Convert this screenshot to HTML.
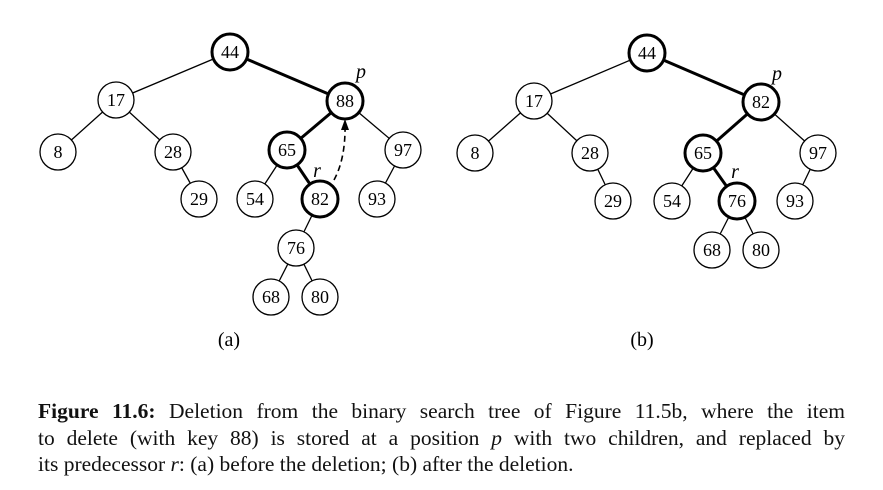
<!DOCTYPE html>
<html><head><style>
body{margin:0;background:#fff;width:883px;height:490px;overflow:hidden;font-family:"Liberation Serif",serif;}
.cap{position:absolute;left:38px;top:398px;width:807px;font-size:21.5px;line-height:26.5px;color:#111;}
.cap div{text-align:justify;text-align-last:justify;white-space:nowrap;}
.cap div.l{text-align-last:left;}
</style></head><body>
<svg width="883" height="380" style="position:absolute;left:0;top:0" font-family="Liberation Serif, serif" font-size="18">
<g stroke="#000" fill="none">
<line x1="230" y1="52" x2="116" y2="100" stroke-width="1.3"/>
<line x1="230" y1="52" x2="345" y2="101" stroke-width="3"/>
<line x1="116" y1="100" x2="58" y2="152" stroke-width="1.3"/>
<line x1="116" y1="100" x2="173" y2="152" stroke-width="1.3"/>
<line x1="173" y1="152" x2="199" y2="199" stroke-width="1.3"/>
<line x1="345" y1="101" x2="287" y2="150" stroke-width="3"/>
<line x1="345" y1="101" x2="403" y2="150" stroke-width="1.3"/>
<line x1="287" y1="150" x2="255" y2="199" stroke-width="1.3"/>
<line x1="287" y1="150" x2="320" y2="199" stroke-width="3"/>
<line x1="403" y1="150" x2="377" y2="199" stroke-width="1.3"/>
<line x1="320" y1="199" x2="296" y2="248" stroke-width="1.3"/>
<line x1="296" y1="248" x2="271" y2="297" stroke-width="1.3"/>
<line x1="296" y1="248" x2="320" y2="297" stroke-width="1.3"/>
<path d="M334,180 Q346,158 345,122" stroke-width="1.6" stroke-dasharray="6,4"/>
<path d="M341,130 L345,119 L349,130 Z" fill="#000" stroke="none"/>
<line x1="647" y1="53" x2="534" y2="101" stroke-width="1.3"/>
<line x1="647" y1="53" x2="761" y2="102" stroke-width="3"/>
<line x1="534" y1="101" x2="475" y2="153" stroke-width="1.3"/>
<line x1="534" y1="101" x2="590" y2="153" stroke-width="1.3"/>
<line x1="590" y1="153" x2="613" y2="201" stroke-width="1.3"/>
<line x1="761" y1="102" x2="703" y2="153" stroke-width="3"/>
<line x1="761" y1="102" x2="818" y2="153" stroke-width="1.3"/>
<line x1="703" y1="153" x2="672" y2="201" stroke-width="1.3"/>
<line x1="703" y1="153" x2="737" y2="201" stroke-width="3"/>
<line x1="818" y1="153" x2="795" y2="201" stroke-width="1.3"/>
<line x1="737" y1="201" x2="712" y2="250" stroke-width="1.3"/>
<line x1="737" y1="201" x2="761" y2="250" stroke-width="1.3"/>
</g>
<g fill="#fff" stroke="#000">
<circle cx="230" cy="52" r="18" stroke-width="3"/>
<circle cx="116" cy="100" r="18" stroke-width="1.3"/>
<circle cx="345" cy="101" r="18" stroke-width="3"/>
<circle cx="58" cy="152" r="18" stroke-width="1.3"/>
<circle cx="173" cy="152" r="18" stroke-width="1.3"/>
<circle cx="287" cy="150" r="18" stroke-width="3"/>
<circle cx="403" cy="150" r="18" stroke-width="1.3"/>
<circle cx="199" cy="199" r="18" stroke-width="1.3"/>
<circle cx="255" cy="199" r="18" stroke-width="1.3"/>
<circle cx="320" cy="199" r="18" stroke-width="3"/>
<circle cx="377" cy="199" r="18" stroke-width="1.3"/>
<circle cx="296" cy="248" r="18" stroke-width="1.3"/>
<circle cx="271" cy="297" r="18" stroke-width="1.3"/>
<circle cx="320" cy="297" r="18" stroke-width="1.3"/>
<circle cx="647" cy="53" r="18" stroke-width="3"/>
<circle cx="534" cy="101" r="18" stroke-width="1.3"/>
<circle cx="761" cy="102" r="18" stroke-width="3"/>
<circle cx="475" cy="153" r="18" stroke-width="1.3"/>
<circle cx="590" cy="153" r="18" stroke-width="1.3"/>
<circle cx="703" cy="153" r="18" stroke-width="3"/>
<circle cx="818" cy="153" r="18" stroke-width="1.3"/>
<circle cx="613" cy="201" r="18" stroke-width="1.3"/>
<circle cx="672" cy="201" r="18" stroke-width="1.3"/>
<circle cx="737" cy="201" r="18" stroke-width="3"/>
<circle cx="795" cy="201" r="18" stroke-width="1.3"/>
<circle cx="712" cy="250" r="18" stroke-width="1.3"/>
<circle cx="761" cy="250" r="18" stroke-width="1.3"/>
</g>
<g text-anchor="middle" fill="#000">
<text x="230" y="58">44</text><text x="116" y="106">17</text><text x="345" y="107">88</text>
<text x="58" y="158">8</text><text x="173" y="158">28</text><text x="287" y="156">65</text><text x="403" y="156">97</text>
<text x="199" y="205">29</text><text x="255" y="205">54</text><text x="320" y="205">82</text><text x="377" y="205">93</text>
<text x="296" y="254">76</text><text x="271" y="303">68</text><text x="320" y="303">80</text>
<text x="647" y="59">44</text><text x="534" y="107">17</text><text x="761" y="108">82</text>
<text x="475" y="159">8</text><text x="590" y="159">28</text><text x="703" y="159">65</text><text x="818" y="159">97</text>
<text x="613" y="207">29</text><text x="672" y="207">54</text><text x="737" y="207">76</text><text x="795" y="207">93</text>
<text x="712" y="256">68</text><text x="761" y="256">80</text>
<text x="229" y="346" font-size="20">(a)</text><text x="642" y="346" font-size="20">(b)</text>
<g font-style="italic" font-size="20">
<text x="361" y="78">p</text><text x="317" y="177">r</text>
<text x="777" y="80">p</text><text x="735" y="178">r</text>
</g>
</g>
</svg>
<div class="cap">
<div><b>Figure 11.6:</b> Deletion from the binary search tree of Figure 11.5b, where the item</div>
<div>to delete (with key 88) is stored at a position <i>p</i> with two children, and replaced by</div>
<div class="l">its predecessor <i>r</i>: (a) before the deletion; (b) after the deletion.</div>
</div>
</body></html>
